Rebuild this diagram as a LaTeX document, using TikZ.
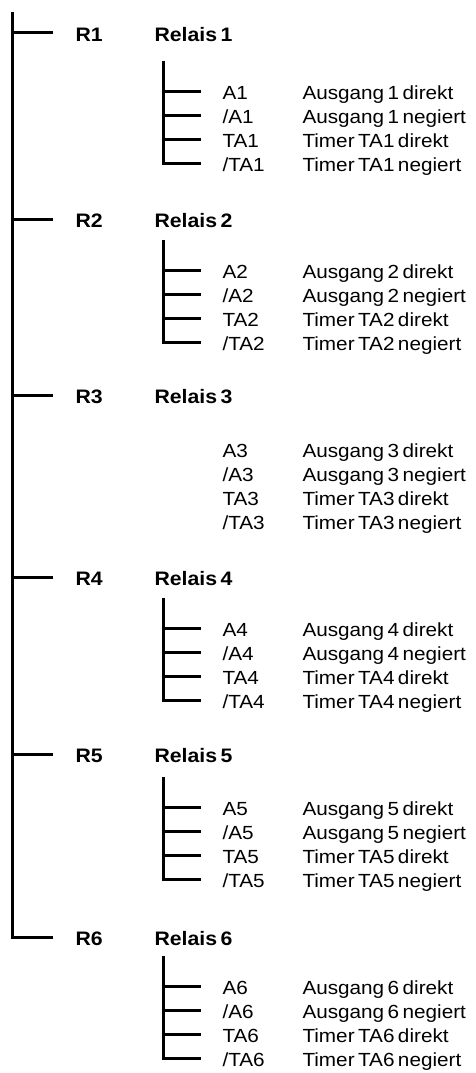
\documentclass[tikz,border=0pt]{standalone}
\usepackage{fontspec}
\setmainfont{Liberation Sans}[FakeStretch=1.09,WordSpace=0.6]
\newcommand\slsh{/}
\begin{document}
\begin{tikzpicture}[x=1pt,y=-1pt,line width=3pt,
  lbl/.style={anchor=west,inner sep=0pt,text height=13.5pt,text depth=0pt,
    font=\fontsize{19}{19}\selectfont},
  blbl/.style={lbl,font=\fontsize{19.5}{19.5}\selectfont\bfseries},
  wire/.style={line width=3pt,line join=miter}]
\useasboundingbox (0,0) rectangle (475,1073);
% main bus
\coordinate (top) at (12,12);
\foreach \i/\ry in {1/33,2/219,3/395,4/577,5/754,6/937}{
  \coordinate (b\i) at (12,\ry);
  \coordinate (be\i) at (53,\ry);
  \node[blbl] (r\i) at (74,\ry+2) {R\i};
  \node[blbl] (rel\i) at (153,\ry+2) {Relais \i};
  \pgfmathsetmacro\ay{91.7+179*(\i-1)}
  \foreach \k/\code/\desc in {0/A\i/Ausgang \i{} direkt,1/\slsh A\i/Ausgang \i{} negiert,2/TA\i/Timer TA\i{} direkt,3/\slsh TA\i/Timer TA\i{} negiert}{
    \coordinate (s\i\k) at (163,\ay+24*\k);
    \coordinate (se\i\k) at (201,\ay+24*\k);
    \node[lbl] (c\i\k) at (221,\ay+24*\k+1) {\code};
    \node[lbl] (d\i\k) at (301,\ay+24*\k+1) {\desc};
  }
  \coordinate (st\i) at (163,\ay-31);
}
\draw[wire] (top) -- (b6) -- (be6);
\foreach \i in {1,...,5}{\draw[wire] (b\i) -- (be\i);}
\foreach \i in {1,2,4,5,6}{
  \draw[wire] (st\i) -- (s\i3) -- (se\i3);
  \foreach \k in {0,1,2}{\draw[wire] (s\i\k) -- (se\i\k);}
}
\end{tikzpicture}
\end{document}
